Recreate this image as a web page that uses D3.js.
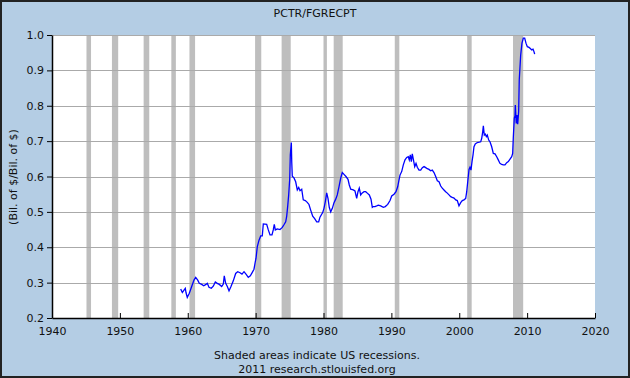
<!DOCTYPE html>
<html>
<head>
<meta charset="utf-8">
<script src="https://cdn.jsdelivr.net/npm/d3@7"></script>
<style>
  body { margin: 0; padding: 0; background: #fff; }
  svg text { font-family: "DejaVu Sans", Verdana, sans-serif; fill: #111; }
</style>
</head>
<body>
<div id="chart"></div>
<script>
// quarterly-ish readings (decimal year, ratio)
var years = [1958.96,1959.20,1959.45,1959.64,1959.74,1959.93,1960.23,1960.58,1960.92,1961.17,1961.47,1961.70,
  1962.06,1962.35,1962.69,1962.88,1963.13,1963.47,1963.76,1964.06,1964.35,1964.65,1965.00,1965.24,1965.38,1965.59,
  1965.83,1966.08,1966.37,1966.71,1967.06,1967.36,1967.70,1967.99,1968.29,1968.58,1968.92,1969.22,1969.51,1969.76,
  1969.95,1970.06,1970.25,1970.50,1970.75,1970.98,1971.13,1971.63,1971.87,1972.12,1972.41,1972.60,1972.75,1972.90,
  1973.19,1973.59,1973.93,1974.22,1974.43,1974.58,1974.73,1974.87,1975.02,1975.11,1975.26,1975.32,1975.40,1975.65,
  1975.90,1976.14,1976.35,1976.54,1976.79,1977.02,1977.32,1977.61,1977.86,1978.11,1978.41,1978.70,1979.00,1979.29,
  1979.48,1979.88,1980.07,1980.27,1980.47,1980.66,1980.85,1981.06,1981.30,1981.55,1981.80,1982.03,1982.28,1982.53,
  1982.77,1983.02,1983.31,1983.61,1983.80,1984.01,1984.39,1984.64,1984.89,1985.08,1985.27,1985.48,1985.67,1985.97,
  1986.22,1986.45,1986.75,1987.00,1987.19,1987.34,1987.59,1987.84,1988.07,1988.43,1988.81,1989.10,1989.46,1989.80,
  1990.05,1990.39,1990.68,1990.93,1991.12,1991.27,1991.52,1991.76,1992.01,1992.26,1992.49,1992.64,1992.79,1992.94,
  1993.08,1993.23,1993.44,1993.63,1993.82,1994.07,1994.32,1994.56,1994.81,1995.06,1995.29,1995.54,1995.79,1996.03,
  1996.28,1996.53,1996.77,1997.02,1997.27,1997.50,1997.75,1998.00,1998.24,1998.49,1998.74,1998.97,1999.23,1999.48,
  1999.71,1999.96,2000.21,2000.45,2000.70,2000.95,2001.10,2001.25,2001.44,2001.58,2001.73,2001.88,2002.03,2002.17,
  2002.36,2002.66,2002.95,2003.16,2003.31,2003.46,2003.55,2003.69,2003.84,2003.99,2004.13,2004.34,2004.53,2004.78,
  2005.02,2005.27,2005.52,2005.75,2006.00,2006.25,2006.49,2006.74,2006.99,2007.23,2007.48,2007.73,2007.87,2007.96,
  2008.11,2008.21,2008.26,2008.40,2008.50,2008.61,2008.75,2008.84,2009.05,2009.24,2009.44,2009.64,2009.83,2010.03,
  2010.28,2010.47,2010.68,2010.87,2011.01,2011.11];
var ratio = [0.282,0.272,0.279,0.284,0.272,0.258,0.270,0.289,0.307,0.315,0.307,0.298,
  0.295,0.291,0.295,0.298,0.287,0.284,0.290,0.302,0.298,0.295,0.289,0.296,0.319,0.298,
  0.289,0.277,0.289,0.305,0.326,0.331,0.328,0.324,0.331,0.324,0.315,0.319,0.329,0.338,
  0.359,0.369,0.402,0.420,0.432,0.432,0.466,0.465,0.449,0.435,0.435,0.449,0.465,0.449,
  0.452,0.450,0.456,0.465,0.472,0.488,0.517,0.548,0.592,0.661,0.696,0.642,0.601,0.596,
  0.585,0.562,0.569,0.560,0.564,0.534,0.532,0.527,0.521,0.505,0.488,0.481,0.472,0.472,
  0.485,0.498,0.510,0.529,0.554,0.538,0.513,0.500,0.510,0.526,0.536,0.548,0.571,0.595,
  0.611,0.606,0.600,0.592,0.576,0.564,0.562,0.559,0.538,0.557,0.567,0.548,0.553,0.557,
  0.557,0.553,0.548,0.536,0.513,0.515,0.515,0.517,0.519,0.517,0.513,0.515,0.521,0.532,
  0.545,0.550,0.557,0.571,0.590,0.604,0.614,0.633,0.647,0.654,0.656,0.647,0.661,0.642,
  0.664,0.649,0.628,0.637,0.626,0.618,0.618,0.625,0.628,0.625,0.622,0.620,0.616,0.618,
  0.611,0.600,0.588,0.585,0.573,0.567,0.562,0.557,0.553,0.548,0.543,0.541,0.539,0.534,
  0.532,0.517,0.526,0.532,0.534,0.538,0.557,0.585,0.620,0.626,0.618,0.642,0.661,0.684,
  0.692,0.696,0.697,0.698,0.708,0.727,0.743,0.717,0.720,0.713,0.717,0.703,0.698,0.684,
  0.665,0.664,0.656,0.647,0.637,0.634,0.633,0.633,0.639,0.642,0.649,0.656,0.665,0.708,
  0.765,0.771,0.802,0.750,0.774,0.748,0.783,0.873,0.943,0.977,0.991,0.991,0.977,0.967,
  0.965,0.962,0.958,0.960,0.953,0.946];

var recessionStart = [1945.08,1948.83,1953.50,1957.58,1960.25,1969.92,1973.83,1980.00,1981.50,1990.50,2001.17,2007.92];
var recessionEnd   = [1945.75,1949.75,1954.33,1958.25,1961.08,1970.83,1975.17,1980.50,1982.83,1991.17,2001.83,2009.42];

var xTicks = [1940,1950,1960,1970,1980,1990,2000,2010,2020];
var yTicks = [0.2,0.3,0.4,0.5,0.6,0.7,0.8,0.9,1.0];

var w = 630, h = 378;
var plotLeft = 52, plotRight = 595, plotTop = 35, plotBottom = 318;

var svg = d3.select("#chart").append("svg")
  .attr("width", w).attr("height", h);

// background + frame
svg.append("rect").attr("x", 1).attr("y", 1).attr("width", w - 2).attr("height", h - 2)
  .attr("fill", "#b4cde4").attr("stroke", "#222").attr("stroke-width", 2);

var xScale = d3.scaleLinear().domain([1940, 2020]).range([plotLeft, plotRight]);
var yScale = d3.scaleLinear().domain([0.2, 1.0]).range([plotBottom, plotTop]);

svg.append("rect").attr("x", plotLeft).attr("y", plotTop)
  .attr("width", plotRight - plotLeft).attr("height", plotBottom - plotTop).attr("fill", "#fff");

// recession shading
svg.selectAll("rect.rec").data(recessionStart).enter().append("rect")
  .attr("class", "rec")
  .attr("x", function(d) { return xScale(d); })
  .attr("y", plotTop)
  .attr("width", function(d, i) { return xScale(recessionEnd[i]) - xScale(d); })
  .attr("height", plotBottom - plotTop)
  .attr("fill", "#bebebe");

// grid lines
svg.selectAll("line.grid").data(yTicks.slice(1)).enter().append("line")
  .attr("class", "grid")
  .attr("x1", plotLeft).attr("x2", plotRight)
  .attr("y1", function(d) { return Math.round(yScale(d)) + 0.5; })
  .attr("y2", function(d) { return Math.round(yScale(d)) + 0.5; })
  .attr("stroke", "#aaa").attr("stroke-width", 1);

// data line
var line = d3.line()
  .x(function(d, i) { return xScale(years[i]); })
  .y(function(d) { return yScale(d); });

svg.append("path").datum(ratio)
  .attr("d", line)
  .attr("fill", "none")
  .attr("stroke", "#0000ff")
  .attr("stroke-width", 1.3);

// axes
var xAxis = d3.axisBottom(xScale).tickValues(xTicks).tickFormat(d3.format("d"))
  .tickSizeInner(-5).tickSizeOuter(0).tickPadding(9);
var yAxis = d3.axisLeft(yScale).tickValues(yTicks).tickFormat(d3.format(".1f"))
  .tickSizeInner(5).tickSizeOuter(0).tickPadding(3);

var gx = svg.append("g").attr("transform", "translate(0," + plotBottom + ")").call(xAxis);
var gy = svg.append("g").attr("transform", "translate(" + plotLeft + ",0)").call(yAxis);

[gx, gy].forEach(function(g) {
  g.select(".domain").attr("stroke", "#000").attr("stroke-width", 1.5);
  g.selectAll(".tick line").attr("stroke", "#000");
  g.selectAll(".tick text").style("font-size", "11px").attr("fill", "#111");
});

// titles
svg.append("text").attr("x", 315).attr("y", 17).attr("text-anchor", "middle")
  .style("font-size", "11px").text("PCTR/FGRECPT");

svg.append("text").attr("transform", "translate(17,177) rotate(-90)")
  .attr("text-anchor", "middle").style("font-size", "11px")
  .text("(Bil. of $/Bil. of $)");

svg.append("text").attr("x", 317).attr("y", 359).attr("text-anchor", "middle")
  .style("font-size", "11px").text("Shaded areas indicate US recessions.");
svg.append("text").attr("x", 317).attr("y", 373).attr("text-anchor", "middle")
  .style("font-size", "11px").text("2011 research.stlouisfed.org");
</script>
</body>
</html>
